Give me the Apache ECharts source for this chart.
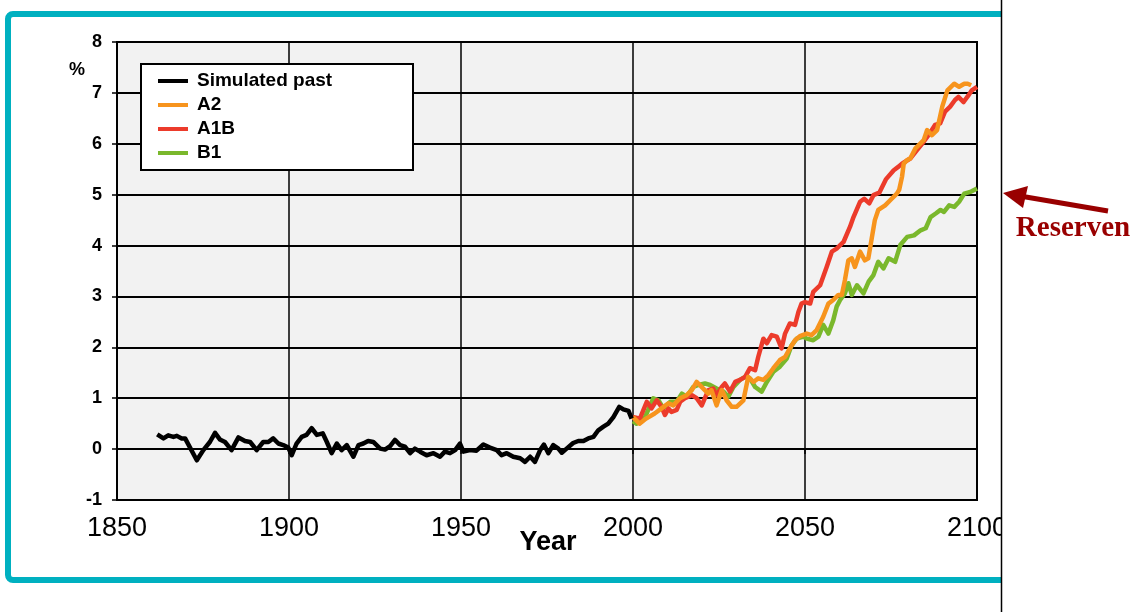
<!DOCTYPE html>
<html>
<head>
<meta charset="utf-8">
<script src="https://cdn.jsdelivr.net/npm/echarts@6/dist/echarts.min.js"></script>
<style>
  html, body { margin: 0; padding: 0; background: #fff; }
  #chart { width: 1140px; height: 612px; }
</style>
</head>
<body>
<div id="chart"></div>
<script>
// [year, %]
var pastData = [
  [1861.7, 0.29], [1863.5, 0.21], [1864.9, 0.27], [1866.4, 0.24], [1867.4, 0.26], [1868.8, 0.21],
  [1869.8, 0.21], [1873.2, -0.22], [1875.1, -0.02], [1877, 0.14], [1878.5, 0.32], [1879.9, 0.19],
  [1881.4, 0.14], [1883.3, -0.02], [1885.3, 0.23], [1887.2, 0.16], [1888.7, 0.14], [1890.6, -0.02],
  [1892.5, 0.14], [1894, 0.14], [1895.4, 0.21], [1896.9, 0.11], [1898.3, 0.08], [1899.8, 0.03],
  [1900.8, -0.12], [1902.2, 0.11], [1903.7, 0.24], [1905.1, 0.28], [1906.6, 0.41], [1908.1, 0.28],
  [1909.8, 0.31], [1911, 0.14], [1912.4, -0.08], [1913.9, 0.11], [1915.3, -0.02], [1916.8, 0.08],
  [1918.7, -0.15], [1920.2, 0.08], [1921.6, 0.11], [1923, 0.16], [1924.5, 0.14], [1926.5, 0.01],
  [1927.9, -0.01], [1929.4, 0.06], [1930.8, 0.18], [1932.3, 0.08], [1933.7, 0.05], [1935.2, -0.08],
  [1936.6, 0.01], [1938.1, -0.05], [1940, -0.12], [1942, -0.08], [1943.9, -0.15], [1945.3, -0.05],
  [1946.8, -0.08], [1948.3, -0.02], [1949.7, 0.11], [1950.7, -0.05], [1952.6, -0.02], [1954.5, -0.03],
  [1956.5, 0.09], [1958.4, 0.03], [1960.4, -0.02], [1961.8, -0.12], [1963.3, -0.08], [1965.2, -0.15],
  [1967.2, -0.18], [1968.6, -0.25], [1970.1, -0.15], [1971.5, -0.25], [1973, -0.02], [1974.1, 0.09],
  [1975.4, -0.08], [1976.8, 0.08], [1978.3, 0.01], [1979.3, -0.07], [1980.7, 0.01], [1982.6, 0.12],
  [1984.1, 0.16], [1985.6, 0.16], [1987, 0.21], [1988.5, 0.24], [1989.9, 0.37], [1991.4, 0.44],
  [1992.8, 0.5], [1994.3, 0.63], [1996, 0.83], [1997.2, 0.78], [1998.7, 0.75], [1999.6, 0.6]
];

var a2Data = [
  [2000, 0.63], [2001.9, 0.5], [2003.8, 0.6], [2006.3, 0.7], [2008.3, 0.8], [2010.3, 0.9],
  [2011.7, 0.86], [2013.7, 1.0], [2015.6, 1.06], [2017.1, 1.16], [2018.5, 1.32], [2020, 1.22],
  [2021.9, 1.09], [2022.8, 1.16], [2024.3, 0.86], [2025.8, 1.16], [2027.2, 0.96], [2028.7, 0.83],
  [2030.1, 0.83], [2032.1, 0.96], [2033.5, 1.42], [2035, 1.32], [2036.4, 1.39], [2037.9, 1.36],
  [2039.3, 1.45], [2040.8, 1.59], [2042.7, 1.75], [2044.2, 1.81], [2045.6, 1.98], [2047.1, 2.14],
  [2048.5, 2.22], [2050.5, 2.27], [2051.9, 2.24], [2053.4, 2.34], [2055.3, 2.6], [2056.8, 2.86],
  [2058.2, 2.93], [2059.7, 3.03], [2060.7, 3.03], [2061.6, 3.32], [2062.6, 3.71], [2063.6, 3.75],
  [2064.5, 3.58], [2066, 3.88], [2067.4, 3.71], [2068.4, 3.75], [2069.4, 4.14], [2070.3, 4.5],
  [2071.3, 4.7], [2073.3, 4.79], [2075.2, 4.92], [2076.7, 5.02], [2077.4, 5.1], [2078.2, 5.35],
  [2078.7, 5.61], [2079.7, 5.68], [2080.6, 5.71], [2082.1, 5.91], [2083, 5.97], [2084.5, 6.07],
  [2085.5, 6.27], [2086.9, 6.17], [2088.4, 6.27], [2089.9, 6.73], [2091.4, 7.05], [2093.4, 7.18],
  [2094.8, 7.12], [2096.3, 7.18], [2097.3, 7.18], [2098.3, 7.15]
];

var a1bData = [
  [2000, 0.63], [2002, 0.6], [2004, 0.93], [2005.4, 0.8], [2006.9, 0.96], [2008.3, 0.83],
  [2009.3, 0.67], [2010.3, 0.8], [2011.2, 0.73], [2012.7, 0.77], [2013.7, 0.93], [2015.1, 1.0],
  [2017.1, 1.06], [2018.5, 1.0], [2020, 0.86], [2020.9, 1.0], [2021.9, 1.16], [2023.3, 1.19],
  [2024.3, 1.06], [2025.8, 1.22], [2026.7, 1.29], [2028.2, 1.13], [2029.7, 1.32], [2031.1, 1.36],
  [2032.6, 1.42], [2034, 1.59], [2035.5, 1.55], [2036.4, 1.81], [2037.9, 2.17], [2038.9, 2.08],
  [2040.3, 2.24], [2041.8, 2.21], [2043.2, 1.98], [2044.2, 2.27], [2045.6, 2.47], [2047.1, 2.44],
  [2048.1, 2.7], [2049, 2.86], [2050, 2.89], [2051.5, 2.86], [2052.4, 3.09], [2054.4, 3.22],
  [2056.3, 3.58], [2057.8, 3.88], [2059.2, 3.94], [2061.2, 4.07], [2063.1, 4.37], [2064.1, 4.56],
  [2066, 4.86], [2067.2, 4.92], [2068.7, 4.83], [2069.9, 4.99], [2071.6, 5.04], [2073.5, 5.3],
  [2075.8, 5.48], [2077.2, 5.55], [2078.2, 5.61], [2080.6, 5.71], [2082.5, 5.87], [2084.5, 6.04],
  [2085.9, 6.17], [2087.8, 6.37], [2089.3, 6.4], [2090.7, 6.63], [2092.2, 6.73], [2093.6, 6.86],
  [2094.6, 6.92], [2096.1, 6.82], [2097.5, 6.95], [2098.5, 7.05], [2100, 7.12]
];

var b1Data = [
  [2000, 0.55], [2001, 0.5], [2003.5, 0.63], [2005.9, 1.0], [2007.4, 0.96], [2008.8, 0.8],
  [2010.8, 0.93], [2012.7, 0.93], [2014.2, 1.09], [2015.6, 1.03], [2017.5, 1.22], [2019, 1.26],
  [2020.9, 1.29], [2022.4, 1.26], [2024.3, 1.19], [2026.3, 1.13], [2027.7, 1.03], [2029.2, 1.22],
  [2031.1, 1.36], [2032.6, 1.42], [2034, 1.39], [2035.5, 1.22], [2037.4, 1.13], [2038.9, 1.32],
  [2040.8, 1.52], [2042.7, 1.62], [2044.7, 1.78], [2046.1, 2.04], [2047.6, 2.17], [2049.5, 2.21],
  [2050.5, 2.17], [2052.4, 2.14], [2053.9, 2.21], [2055.3, 2.44], [2056.8, 2.27], [2058.2, 2.53],
  [2059.2, 2.8], [2060.2, 2.93], [2061.6, 3.06], [2062.6, 3.26], [2063.6, 3.03], [2065.1, 3.22],
  [2067, 3.06], [2068.5, 3.29], [2069.9, 3.42], [2071.3, 3.68], [2072.8, 3.55], [2074.3, 3.75],
  [2076.2, 3.68], [2077.7, 4.01], [2079.7, 4.17], [2081.7, 4.2], [2083.6, 4.3], [2085.1, 4.34],
  [2086.5, 4.56], [2088, 4.63], [2089.4, 4.7], [2090.4, 4.66], [2091.9, 4.79], [2093.4, 4.76],
  [2094.8, 4.86], [2096.3, 5.02], [2098.3, 5.06], [2100, 5.12]
];

var seriesNames = ['Simulated past', 'A2', 'A1B', 'B1'];
var seriesColors = ['#000000', '#f7941d', '#ec3b2b', '#7ab82c'];

(function () {
  var myChart = echarts.init(document.getElementById('chart'));
  var font = 'Liberation Sans, Arial, sans-serif';

  function lineSeries(i, data, z) {
    return {
      name: seriesNames[i],
      type: 'line',
      data: data,
      showSymbol: false,
      symbol: 'none',
      z: z,
      lineStyle: { color: seriesColors[i], width: 4.5, join: 'round' },
      itemStyle: { color: seriesColors[i] }
    };
  }

  var option = {
    animation: false,
    grid: {
      left: 117,
      top: 42,
      right: 163,
      bottom: 112,
      show: true,
      backgroundColor: '#f2f2f2',
      borderColor: '#000',
      borderWidth: 2
    },
    legend: {
      data: seriesNames,
      orient: 'vertical',
      left: 141,
      top: 64,
      padding: [7, 8, 7, 17],
      itemGap: 4,
      itemWidth: 30,
      itemHeight: 4,
      icon: 'rect',
      backgroundColor: '#fff',
      borderColor: '#000',
      borderWidth: 2,
      borderRadius: 0,
      textStyle: {
        fontFamily: font,
        fontWeight: 'bold',
        fontSize: 19,
        lineHeight: 20,
        color: '#000',
        width: 208,
        padding: [0, 0, 0, 4]
      }
    },
    xAxis: {
      type: 'value',
      min: 1850,
      max: 2100,
      interval: 50,
      axisLine: { lineStyle: { color: '#000', width: 2 } },
      axisTick: { show: true, length: 5, lineStyle: { color: '#000', width: 1.5 } },
      axisLabel: {
        fontFamily: font,
        fontSize: 27,
        color: '#000',
        margin: 15,
        formatter: function (v) { return String(v); }
      },
      splitLine: { show: true, lineStyle: { color: '#000', width: 1.5 } }
    },
    yAxis: {
      type: 'value',
      min: -1,
      max: 8,
      interval: 1,
      axisLine: { show: true, lineStyle: { color: '#000', width: 2 } },
      axisTick: { show: true, length: 5, lineStyle: { color: '#000', width: 1.5 } },
      axisLabel: { fontFamily: font, fontSize: 18, fontWeight: 'bold', color: '#000', margin: 15 },
      splitLine: { show: true, lineStyle: { color: '#000', width: 2 } }
    },
    series: [
      lineSeries(0, pastData, 5),
      lineSeries(3, b1Data, 2),
      lineSeries(2, a1bData, 3),
      lineSeries(1, a2Data, 4)
    ],
    graphic: [
      // teal frame
      {
        type: 'rect',
        z: 1,
        shape: { x: 8, y: 14, width: 1120, height: 566, r: 5 },
        style: { fill: 'none', stroke: '#00b0c0', lineWidth: 6 }
      },
      // white strip right of the divider
      {
        type: 'rect',
        z: 50,
        shape: { x: 1002, y: 0, width: 140, height: 612 },
        style: { fill: '#fff' }
      },
      {
        type: 'line',
        z: 51,
        shape: { x1: 1001.5, y1: 0, x2: 1001.5, y2: 612 },
        style: { stroke: '#000', lineWidth: 1.5 }
      },
      {
        type: 'text',
        z: 52,
        x: 77, y: 70,
        style: { text: '%', fontFamily: font, fontWeight: 'bold', fontSize: 18, fill: '#000', align: 'center', verticalAlign: 'middle' }
      },
      {
        type: 'text',
        z: 52,
        x: 548, y: 543,
        style: { text: 'Year', fontFamily: font, fontWeight: 'bold', fontSize: 27, fill: '#000', align: 'center', verticalAlign: 'middle' }
      },
      // annotation arrow
      {
        type: 'line',
        z: 52,
        shape: { x1: 1020, y1: 196, x2: 1108, y2: 211 },
        style: { stroke: '#990000', lineWidth: 5 }
      },
      {
        type: 'polygon',
        z: 52,
        shape: { points: [[1003, 193], [1028, 186], [1023, 208]] },
        style: { fill: '#990000' }
      },
      {
        type: 'text',
        z: 52,
        x: 1073, y: 229,
        style: { text: 'Reserven', fontFamily: 'Liberation Serif, Times New Roman, serif', fontWeight: 'bold', fontSize: 29, fill: '#990000', align: 'center', verticalAlign: 'middle' }
      }
    ]
  };
  myChart.setOption(option);
  window.addEventListener('resize', function () {
    myChart.resize();
  });
})();
</script>
</body>
</html>
